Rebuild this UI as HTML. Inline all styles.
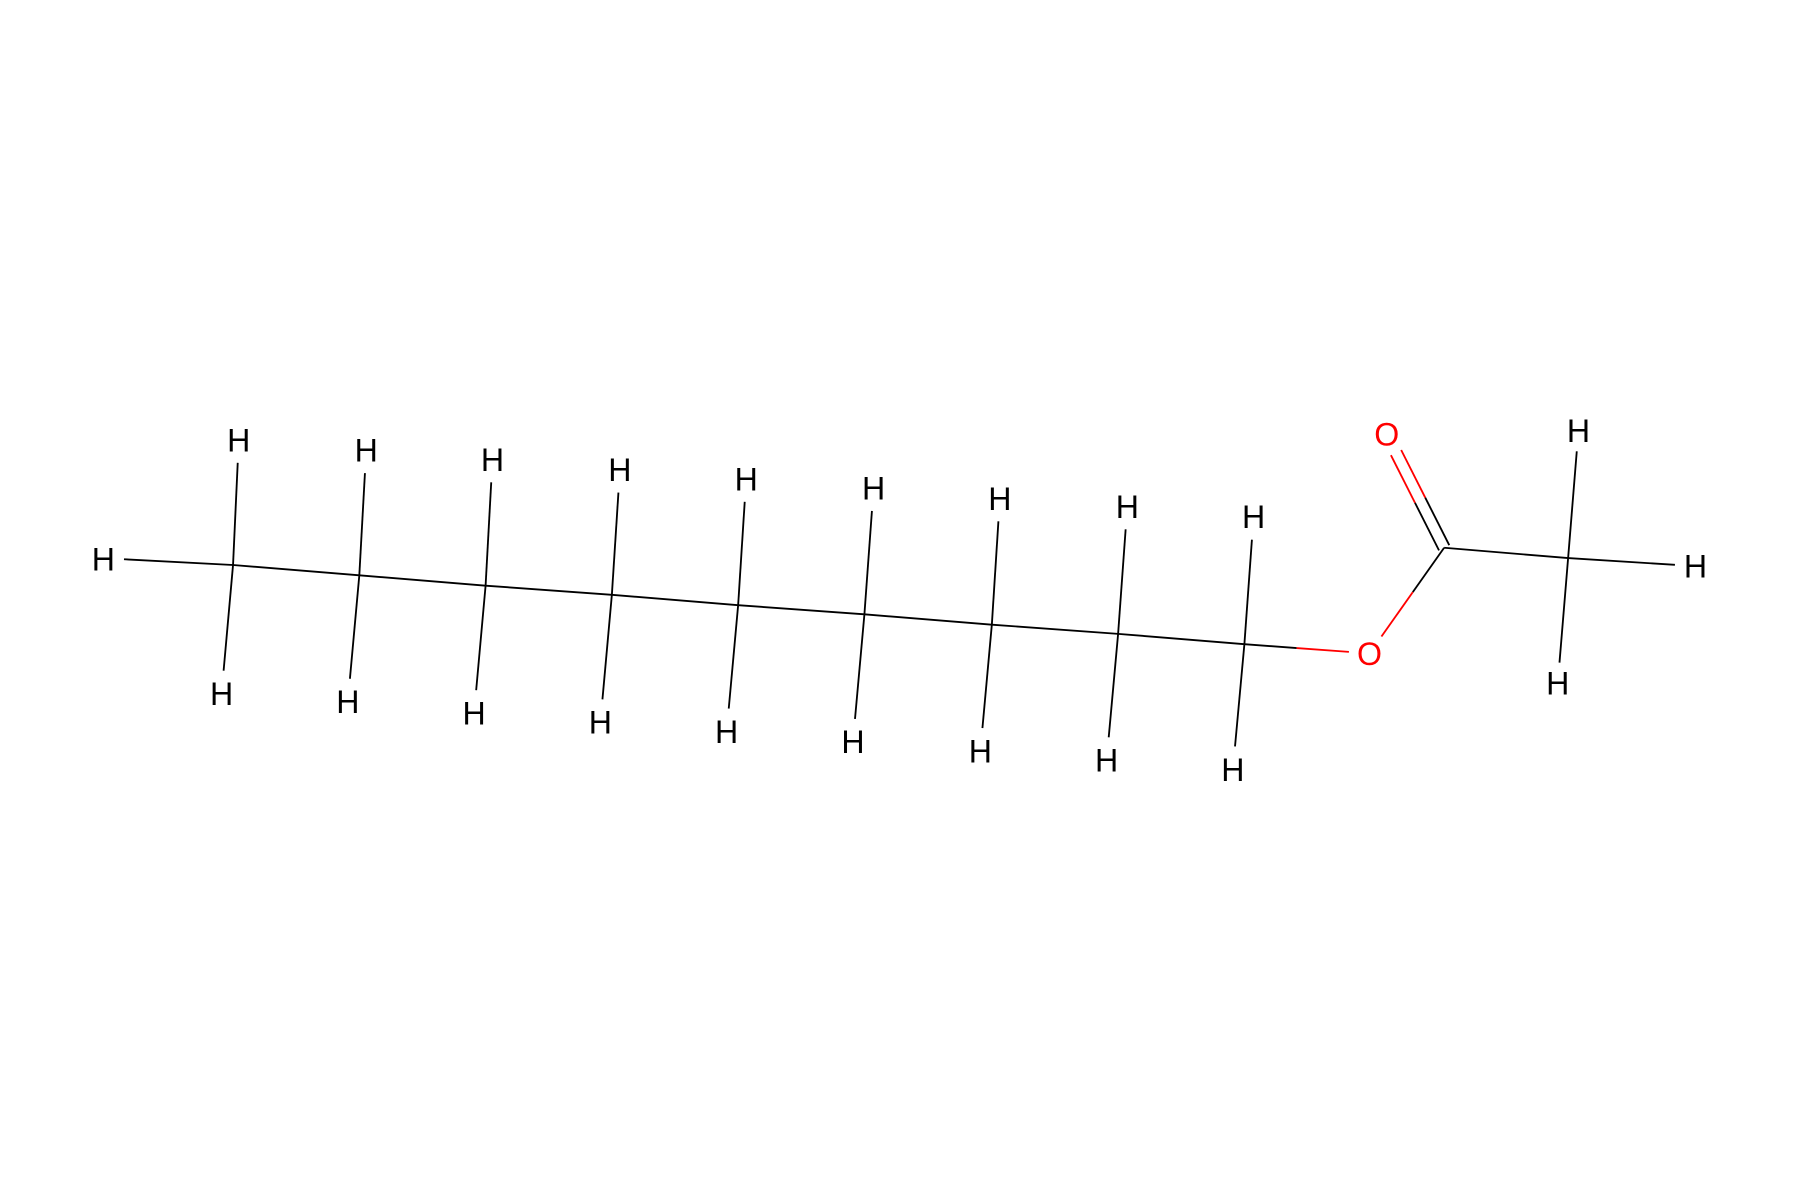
<!DOCTYPE html>
<html><head><meta charset="utf-8"><style>html,body{margin:0;padding:0;background:#fff}svg{display:block}</style></head>
<body>
<svg id="mol" width="1800" height="1200" viewBox="0 0 1568 1045" xmlns="http://www.w3.org/2000/svg">
<rect width="1568" height="1045" fill="#fff"/>
</svg>
<script>
const carbonX = [203,313,423,533,643,753,864,974,1084];
const carbonY = [492,501,510,518,527,535,544,552,561];
const hUpX = [208,319,429,540,650,761,871,982,1092];
const hUpY = [383,392,400,409,417,425,434,441,450];
const hDnX = [193,303,413,523,633,743,854,964,1074];
const hDnY = [604,611,621,629,637,646,654,662,670];
const svg = document.getElementById('mol');
const NS = 'http://www.w3.org/2000/svg';
function line(x1,y1,x2,y2,c,name){
  const l=document.createElementNS(NS,'line');
  l.setAttribute('x1',x1);l.setAttribute('y1',y1);l.setAttribute('x2',x2);l.setAttribute('y2',y2);
  l.setAttribute('stroke',c);l.setAttribute('stroke-width','1.6');
  
  
  svg.appendChild(l);
}
function label(x,y,t,c,name){
  const e=document.createElementNS(NS,'text');
  e.setAttribute('x',x);e.setAttribute('y',y+10);e.setAttribute('text-anchor','middle');
  e.setAttribute('font-family','Liberation Sans, sans-serif');e.setAttribute('font-size','28');e.setAttribute('fill',c);
  e.textContent=t;
  
  
  svg.appendChild(e);
}
function shorten(x1,y1,x2,y2,d){const dx=x2-x1,dy=y2-y1,L=Math.hypot(dx,dy);return [x2-dx/L*d,y2-dy/L*d];}
// chain bonds
for(let i=0;i<carbonX.length-1;i++) line(carbonX[i],carbonY[i],carbonX[i+1],carbonY[i+1],'#000','chain-bond');
// H on C1 left
label(90,487,'H','#000','hydrogen-label');
line(108,487,carbonX[0],carbonY[0],'#000','ch-bond');
for(let i=0;i<carbonX.length;i++){
  let p=shorten(carbonX[i],carbonY[i],hUpX[i],hUpY[i],20);
  line(carbonX[i],carbonY[i],p[0],p[1],'#000','ch-bond');
  label(hUpX[i],hUpY[i],'H','#000','hydrogen-label');
  p=shorten(carbonX[i],carbonY[i],hDnX[i],hDnY[i],20);
  line(carbonX[i],carbonY[i],p[0],p[1],'#000','ch-bond');
  label(hDnX[i],hDnY[i],'H','#000','hydrogen-label');
}
// ester O
const Ox=1193,Oy=569, Cc=[1258,477], Od=[1208,378], Cm=[1366,486];
let p=shorten(carbonX[8],carbonY[8],Ox,Oy,18);
let mx=(carbonX[8]+p[0])/2,my=(carbonY[8]+p[1])/2;
line(carbonX[8],carbonY[8],mx,my,'#000','c-o-bond');line(mx,my,p[0],p[1],'#f00','c-o-bond');
label(Ox,Oy,'O','#f00','ester-oxygen');
p=shorten(Cc[0],Cc[1],Ox,Oy,18);
mx=(Cc[0]+p[0])/2;my=(Cc[1]+p[1])/2;
line(Cc[0],Cc[1],mx,my,'#000','o-c-bond');line(mx,my,p[0],p[1],'#f00','o-c-bond');
// double bond
for(const off of [-5,5]){
  const dx=Od[0]-Cc[0],dy=Od[1]-Cc[1],L=Math.hypot(dx,dy),nx=-dy/L*off,ny=dx/L*off;
  const a=[Cc[0]+nx,Cc[1]+ny]; const b=shorten(a[0],a[1],Od[0]+nx,Od[1]+ny,18);
  const m=[(a[0]+b[0])/2,(a[1]+b[1])/2];
  line(a[0],a[1],m[0],m[1],'#000','c-o-double-bond');line(m[0],m[1],b[0],b[1],'#f00','c-o-double-bond');
}
label(Od[0],Od[1],'O','#f00','carbonyl-oxygen');
line(Cc[0],Cc[1],Cm[0],Cm[1],'#000','c-c-bond');
const mH=[[1375,375],[1477,493],[1357,595]];
for(const h of mH){p=shorten(Cm[0],Cm[1],h[0],h[1],18);line(Cm[0],Cm[1],p[0],p[1],'#000','ch-bond');label(h[0],h[1],'H','#000','hydrogen-label');}
</script>
</body></html>
